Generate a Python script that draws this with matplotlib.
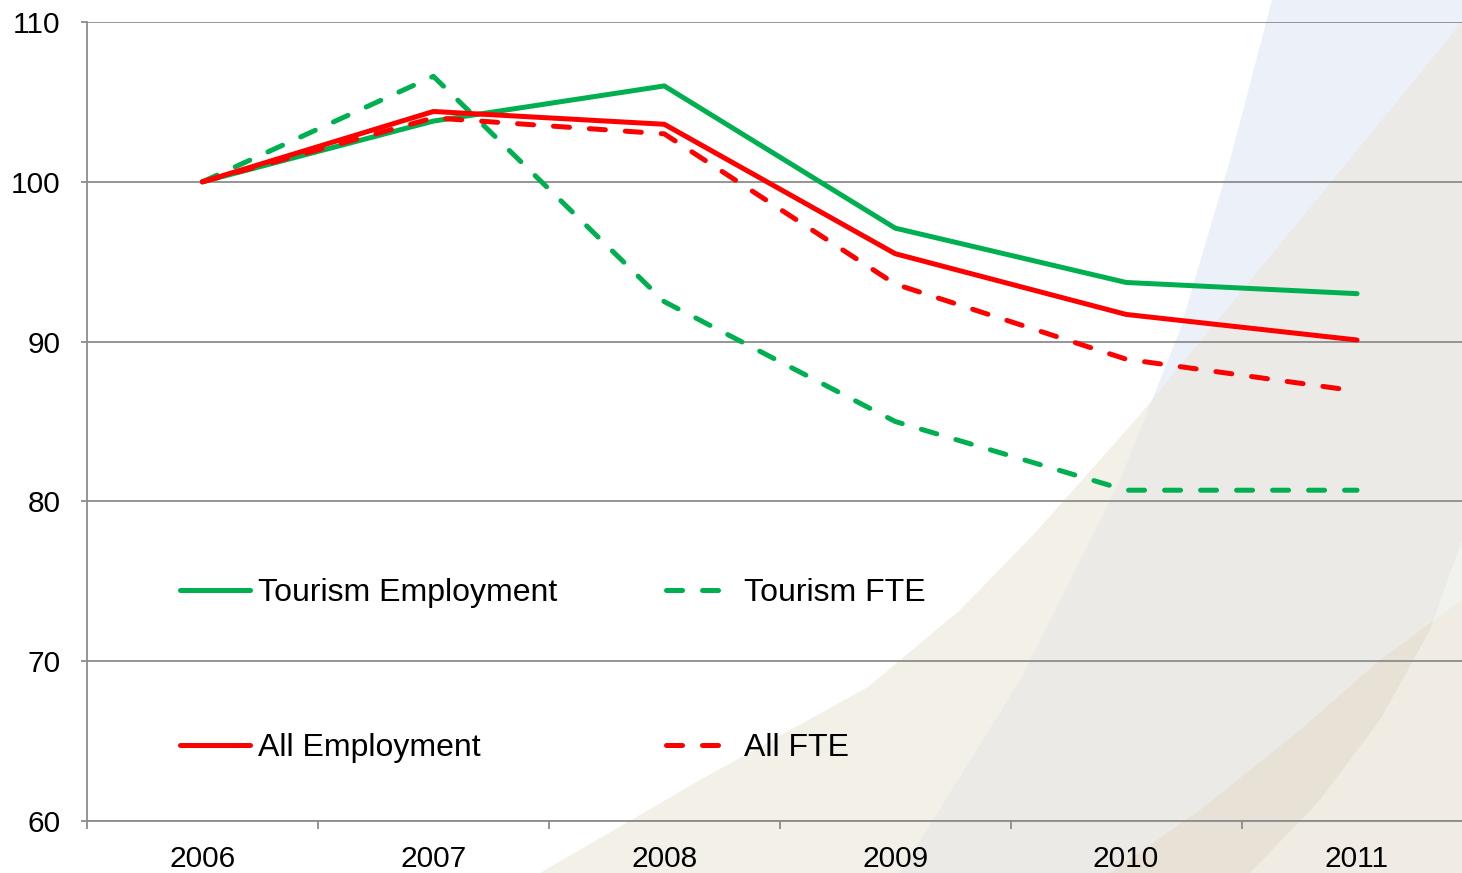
import numpy as np
import matplotlib.pyplot as plt
from matplotlib.patches import Polygon

plt.rcParams['font.family'] = ['Liberation Sans', 'DejaVu Sans']

years = ['2006', '2007', '2008', '2009', '2010', '2011']
tourism_emp = [100, 103.8, 106.0, 97.1, 93.7, 93.0]
tourism_fte = [100, 106.6, 92.5, 85.0, 80.7, 80.7]
all_emp = [100, 104.4, 103.6, 95.5, 91.7, 90.1]
all_fte = [100, 104.0, 103.0, 93.6, 88.9, 86.9]

GREEN = '#00b050'
RED = '#ff0000'
GRID = '#8c8c8c'

W, H = 1462, 873
fig = plt.figure(figsize=(W / 100, H / 100), dpi=100)

# decorative background shapes (pixel coords, y down)
bg = fig.add_axes([0, 0, 1, 1], zorder=0)
bg.set_xlim(0, W)
bg.set_ylim(H, 0)
bg.axis('off')

blue_edge = [(1272, 0), (1230, 160), (1180, 330), (1120, 480), (1020, 680), (900, 873)]
bg.add_patch(Polygon(blue_edge + [(W, H), (W, 0)], closed=True,
                     facecolor='#e8edf8', edgecolor='none', alpha=0.8))
beige_edge = [(540, 873), (700, 780), (868, 687), (960, 610), (1034, 534),
              (1138, 417), (1300, 220), (1462, 22)]
bg.add_patch(Polygon(beige_edge + [(W, H)], closed=True,
                     facecolor='#ebe7da', edgecolor='none', alpha=0.6))
tan_edge = [(1110, 873), (1200, 810), (1300, 730), (1380, 660), (1462, 600)]
bg.add_patch(Polygon(tan_edge + [(W, H)], closed=True,
                     facecolor='#e6dcc8', edgecolor='none', alpha=0.5))
white_edge = [(1250, 873), (1320, 800), (1380, 720), (1430, 630), (1462, 540)]
bg.add_patch(Polygon(white_edge + [(W, H)], closed=True,
                     facecolor='white', edgecolor='none', alpha=0.35))

left = 87 / W
bottom = 1 - 821 / H
width = (1472.5 - 87) / W
height = (821 - 22) / H
ax = fig.add_axes([left, bottom, width, height], zorder=1)
ax.patch.set_alpha(0)

x = np.arange(len(years))
kw = dict(linewidth=3.6, solid_capstyle='round', dash_capstyle='round')
l1, = ax.plot(x, tourism_emp, color=GREEN, label='Tourism Employment', **kw)
l2, = ax.plot(x, tourism_fte, color=GREEN, dashes=(3.2, 4), label='Tourism FTE', **kw)
l3, = ax.plot(x, all_emp, color=RED, label='All Employment', **kw)
l4, = ax.plot(x, all_fte, color=RED, dashes=(3.2, 4), label='All FTE', **kw)

ax.set_xlim(-0.5, 5.5)
ax.set_ylim(60, 110)
ax.set_yticks(range(60, 111, 10))
ax.yaxis.grid(True, color=GRID, linewidth=1.3)
ax.set_axisbelow(True)

ax.set_xticks(x)
ax.set_xticklabels(years)
ax.set_xticks(np.arange(-0.5, 5.6, 1), minor=True)
ax.tick_params(axis='x', which='major', length=0, labelsize=21.5, pad=17)
ax.tick_params(axis='x', which='minor', length=6, width=1.3, color=GRID, direction='out')
ax.tick_params(axis='y', length=4, width=1.3, color=GRID, labelsize=21.5, pad=15)

for s in ['top', 'right']:
    ax.spines[s].set_visible(False)
for s in ['left', 'bottom']:
    ax.spines[s].set_color(GRID)
    ax.spines[s].set_linewidth(1.3)

# row-major order like the original: handles filled column by column
handles = [l1, l3, l2, l4]
leg = ax.legend(handles, [h.get_label() for h in handles], ncol=2,
                loc='upper left', bbox_to_anchor=(0.0464, 0.34),
                frameon=False, fontsize=23, handlelength=2.2, handletextpad=0.25,
                columnspacing=3.4, labelspacing=3.92)

fig.savefig('out.png', dpi=100)
